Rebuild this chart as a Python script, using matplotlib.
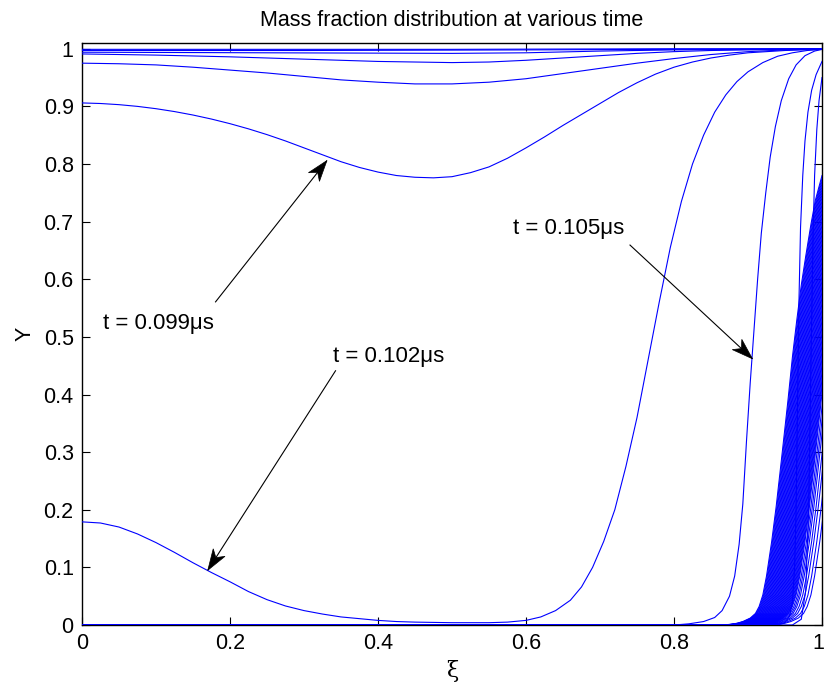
import numpy as np
import matplotlib
matplotlib.use("Agg")
import matplotlib.pyplot as plt
from matplotlib.patches import Polygon
from matplotlib.transforms import IdentityTransform, ScaledTranslation

plt.rcParams['font.family'] = ['Liberation Sans', 'DejaVu Sans']

# ==============================
# PROFILES Y(xi)
# ==============================
# curves sitting just under Y = 1
xi_a = [0.0, 0.5, 0.8, 1.0]
y_a = [0.999, 0.999, 1.0, 1.0]
xi_b = [0.0, 0.3, 0.6, 0.8, 1.0]
y_b = [0.997, 0.997, 0.998, 0.999, 1.0]
xi_c = [0.0, 0.25, 0.5, 0.6, 0.7, 0.8, 0.9, 1.0]
y_c = [0.994, 0.993, 0.992, 0.993, 0.996, 0.998, 0.999, 1.0]
xi_d = [0.0, 0.1, 0.2, 0.3, 0.4, 0.5, 0.55, 0.6, 0.65, 0.7, 0.75, 0.8, 0.85, 0.9, 0.95, 1.0]
y_d = [0.991, 0.989, 0.986, 0.982, 0.978, 0.976, 0.977, 0.98, 0.984, 0.988, 0.992, 0.995,
       0.997, 0.998, 0.999, 1.0]
xi_e = [0.0, 0.05, 0.1, 0.15, 0.2, 0.25, 0.3, 0.35, 0.4, 0.45, 0.5, 0.55, 0.6, 0.65,
        0.7, 0.75, 0.8, 0.85, 0.9, 0.95, 1.0]
y_e = [0.975, 0.974, 0.972, 0.968, 0.963, 0.958, 0.952, 0.946, 0.942, 0.939, 0.939,
       0.942, 0.948, 0.957, 0.966, 0.975, 0.983, 0.99, 0.995, 0.998, 1.0]

# t = 0.099 us
xi_099 = [0.0, 0.025, 0.05, 0.075, 0.1, 0.125, 0.15, 0.175, 0.2, 0.225, 0.25, 0.275,
          0.3, 0.325, 0.35, 0.375, 0.4, 0.425, 0.45, 0.475, 0.5, 0.525, 0.55, 0.575,
          0.6, 0.625, 0.65, 0.675, 0.7, 0.725, 0.75, 0.775, 0.8, 0.825, 0.85, 0.875,
          0.9, 0.925, 0.95, 0.975, 1.0]
y_099 = [0.906, 0.905, 0.903, 0.9, 0.896, 0.891, 0.885, 0.878, 0.87, 0.861, 0.851, 0.84,
         0.828, 0.816, 0.804, 0.794, 0.786, 0.78, 0.777, 0.776, 0.778, 0.785, 0.795, 0.81,
         0.828, 0.847, 0.867, 0.886, 0.905, 0.924, 0.941, 0.956, 0.968, 0.977, 0.984,
         0.989, 0.993, 0.995, 0.997, 0.998, 0.999]

# t = 0.102 us
xi_102 = [0.0, 0.025, 0.05, 0.075, 0.1, 0.125, 0.15, 0.175, 0.2, 0.225, 0.25, 0.275,
          0.3, 0.325, 0.35, 0.375, 0.4, 0.425, 0.45, 0.5, 0.55, 0.575, 0.6, 0.62, 0.64,
          0.66, 0.675, 0.69, 0.705, 0.72, 0.735, 0.75, 0.765, 0.78, 0.795, 0.81, 0.825,
          0.84, 0.855, 0.87, 0.885, 0.9, 0.92, 0.94, 0.96, 0.98, 1.0]
y_102 = [0.179, 0.177, 0.17, 0.158, 0.143, 0.126, 0.108, 0.091, 0.075, 0.058, 0.044,
         0.033, 0.025, 0.019, 0.014, 0.011, 0.008, 0.006, 0.005, 0.004, 0.004, 0.005,
         0.008, 0.014, 0.025, 0.043, 0.066, 0.1, 0.145, 0.2, 0.275, 0.36, 0.46, 0.56,
         0.655, 0.735, 0.8, 0.85, 0.89, 0.92, 0.943, 0.96, 0.976, 0.987, 0.993, 0.997,
         0.999]

# t = 0.105 us
xi_105 = [0.0, 0.8, 0.82, 0.84, 0.855, 0.865, 0.875, 0.882, 0.888, 0.893, 0.898, 0.903,
          0.908, 0.913, 0.918, 0.924, 0.93, 0.937, 0.945, 0.955, 0.965, 0.977, 0.99, 1.0]
y_105 = [0.0, 0.0, 0.002, 0.006, 0.013, 0.025, 0.05, 0.085, 0.14, 0.21, 0.32, 0.42,
         0.51, 0.6, 0.68, 0.75, 0.812, 0.865, 0.91, 0.948, 0.972, 0.988, 0.996, 0.999]

# later fronts close to the outlet
xi_f1 = [0.0, 0.94, 0.95, 0.956, 0.96, 0.963, 0.965, 0.967, 0.969, 0.971, 0.974, 0.977,
         0.981, 0.986, 0.992, 1.0]
y_f1 = [0.0, 0.0, 0.004, 0.015, 0.04, 0.1, 0.2, 0.39, 0.57, 0.69, 0.78, 0.84, 0.89,
        0.928, 0.955, 0.978]
xi_f2 = [0.0, 0.96, 0.972, 0.978, 0.982, 0.985, 0.988, 0.99, 0.993, 0.996, 1.0]
y_f2 = [0.0, 0.0, 0.01, 0.06, 0.2, 0.45, 0.68, 0.78, 0.86, 0.91, 0.95]

# front leaving the domain: one profile, drawn at successive positions
xi_exit = [0.0, 0.86, 0.875, 0.885, 0.893, 0.903, 0.91, 0.915, 0.92, 0.925, 0.932,
           0.938, 0.943, 0.948, 0.954, 0.96, 0.966, 0.972, 0.978, 0.985, 0.991, 1.0]
y_exit = [0.0, 0.0, 0.001, 0.003, 0.006, 0.012, 0.02, 0.032, 0.052, 0.085, 0.145,
          0.205, 0.262, 0.32, 0.39, 0.465, 0.53, 0.59, 0.64, 0.695, 0.737, 0.78]
exit_shift = [0.0, 0.001, 0.002, 0.003, 0.004, 0.005, 0.006, 0.007, 0.008, 0.009,
              0.010, 0.011, 0.012, 0.013, 0.014, 0.015, 0.016, 0.017, 0.018, 0.019,
              0.020, 0.021, 0.022, 0.023, 0.024, 0.025, 0.026, 0.027, 0.028, 0.029,
              0.030, 0.031, 0.032, 0.033, 0.034, 0.035, 0.036, 0.037, 0.038, 0.039,
              0.040, 0.041, 0.042, 0.043, 0.044, 0.045, 0.047, 0.049, 0.051, 0.054,
              0.057, 0.061, 0.065]

xticks = [0, 0.2, 0.4, 0.6, 0.8, 1]
xtick_labels = ['0', '0.2', '0.4', '0.6', '0.8', '1']
yticks = [0, 0.1, 0.2, 0.3, 0.4, 0.5, 0.6, 0.7, 0.8, 0.9, 1]
ytick_labels = ['0', '0.1', '0.2', '0.3', '0.4', '0.5', '0.6', '0.7', '0.8', '0.9', '1']

# annotations: text, text anchor, arrow start, arrow tip
labels = ['t = 0.099μs', 't = 0.102μs', 't = 0.105μs']
label_pos = [(0.028, 0.523), (0.339, 0.466), (0.582, 0.688)]
arrow_from = [(0.18, 0.56), (0.343, 0.442), (0.740, 0.66)]
arrow_to = [(0.331, 0.806), (0.170, 0.095), (0.906, 0.462)]

# ==============================
# PLOT
# ==============================
fig = plt.figure(figsize=(8.25, 6.9), dpi=100)
ax = fig.add_axes([82 / 825, 65 / 690, 740 / 825, 582 / 690])

blue = '#0000ff'
profiles = [(xi_a, y_a), (xi_b, y_b), (xi_c, y_c), (xi_d, y_d), (xi_e, y_e),
            (xi_099, y_099), (xi_102, y_102), (xi_105, y_105),
            (xi_f1, y_f1), (xi_f2, y_f2)]
for xs, ys in profiles:
    ax.plot(xs, ys, color=blue, lw=0.8, zorder=3)

for s in exit_shift:
    ax.plot(np.array(xi_exit) + s, y_exit, color=blue, lw=0.75, zorder=3)

ax.set_xlim(0, 1)
ax.set_ylim(0, 1.01)
ax.set_xticks(xticks)
ax.set_xticklabels(xtick_labels)
ax.set_yticks(yticks)
ax.set_yticklabels(ytick_labels)
ax.tick_params(direction='in', length=5.5, width=0.8, top=True, right=True,
               labelsize=15.5, pad=6)
for sp in ax.spines.values():
    sp.set_linewidth(1.0)

# keep the last x tick label inside the canvas
last = ax.get_xticklabels()[-1]
last.set_transform(last.get_transform() + ScaledTranslation(-3 / 72, 0, fig.dpi_scale_trans))

ax.set_title('Mass fraction distribution at various time', fontsize=15.5, pad=12)
ax.set_xlabel('ξ', fontsize=16, family=['DejaVu Serif'], labelpad=4)
ax.set_ylabel('Y', fontsize=15.5, labelpad=6)


def draw_arrow(p0, p1, head_len=21, half_w=7, notch=6):
    # shaft in data space, notched head built in pixel space
    ax.plot([p0[0], p1[0]], [p0[1], p1[1]], color='k', lw=0.8, zorder=4,
            solid_capstyle='butt')
    a = ax.transData.transform(p0)
    b = ax.transData.transform(p1)
    u = (b - a) / np.hypot(*(b - a))
    n = np.array([-u[1], u[0]])
    pts = [b, b - head_len * u + half_w * n, b - (head_len - notch) * u,
           b - head_len * u - half_w * n]
    fig.add_artist(Polygon(pts, closed=True, facecolor='k', edgecolor='k', lw=0.5,
                           transform=IdentityTransform(), zorder=5))


for txt, pos, p0, p1 in zip(labels, label_pos, arrow_from, arrow_to):
    ax.text(pos[0], pos[1], txt, fontsize=16, ha='left', va='center')
    draw_arrow(p0, p1)

fig.savefig('out.png', dpi=100)
